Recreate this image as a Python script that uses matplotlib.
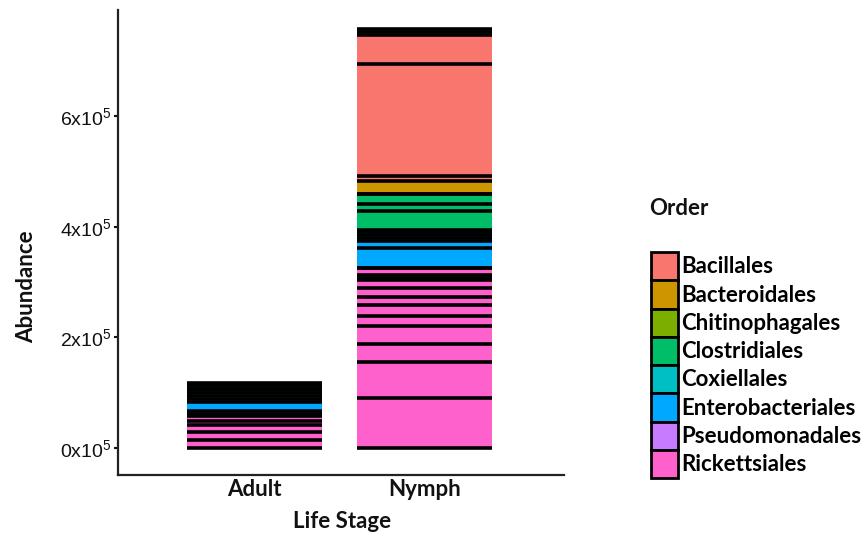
import matplotlib
matplotlib.use('Agg')
import matplotlib.pyplot as plt
import numpy as np
from matplotlib.patches import Patch

plt.rcParams['mathtext.fontset'] = 'custom'
plt.rcParams['mathtext.rm'] = 'Liberation Sans'

stages = ['Adult', 'Nymph']
orders = ['Bacillales', 'Bacteroidales', 'Chitinophagales', 'Clostridiales',
          'Coxiellales', 'Enterobacteriales', 'Pseudomonadales', 'Rickettsiales']
order_colors = ['#F8766D', '#CD9600', '#7CAE00', '#00BE67',
                '#00BFC4', '#00A9FF', '#C77CFF', '#FF61CC']

# segments stacked from the bottom up (one per taxon)
adult_orders = ['Rickettsiales', 'Rickettsiales', 'Rickettsiales', 'Rickettsiales',
                'Rickettsiales', 'Rickettsiales', 'Pseudomonadales', 'Enterobacteriales',
                'Enterobacteriales', 'Coxiellales', 'Coxiellales', 'Clostridiales',
                'Chitinophagales', 'Bacteroidales', 'Bacillales']
adult_values = [15000, 13500, 12500, 7000, 9000, 5000, 5000, 17000,
                5000, 5000, 5000, 5000, 5000, 5000, 4000]

nymph_orders = ['Rickettsiales', 'Rickettsiales', 'Rickettsiales', 'Rickettsiales',
                'Rickettsiales', 'Rickettsiales', 'Rickettsiales', 'Rickettsiales',
                'Rickettsiales', 'Rickettsiales', 'Rickettsiales', 'Rickettsiales',
                'Pseudomonadales', 'Enterobacteriales', 'Enterobacteriales',
                'Enterobacteriales', 'Coxiellales', 'Coxiellales', 'Clostridiales',
                'Clostridiales', 'Clostridiales', 'Clostridiales', 'Chitinophagales',
                'Bacteroidales', 'Bacillales', 'Bacillales', 'Bacillales',
                'Bacillales', 'Bacillales']
nymph_values = [90000, 65000, 33000, 32000, 18000, 20000, 15000, 17000,
                13000, 5000, 5000, 12000, 1000, 35000, 13000, 6000,
                5000, 5000, 5000, 33000, 14000, 17000, 1000, 23500,
                9000, 202000, 53000, 5000, 5000]

y_ticks = [0, 200000, 400000, 600000]
y_tick_labels = [r'$\mathrm{0x10^{5}}$', r'$\mathrm{2x10^{5}}$',
                 r'$\mathrm{4x10^{5}}$', r'$\mathrm{6x10^{5}}$']

colors = dict(zip(orders, order_colors))
title_font = dict(family='Lato', weight='bold', size=16, color='#111111')

fig = plt.figure(figsize=(8.64, 5.34), dpi=100)
ax = fig.add_axes([118/864, 59/534, (564-118)/864, (524-59)/534])

width = 0.79
for i, (segs, vals) in enumerate([(adult_orders, adult_values), (nymph_orders, nymph_values)]):
    pos = i + 1
    bottom = 0
    for o, v in zip(segs, vals):
        ax.bar(pos, v, bottom=bottom, width=width, color=colors[o], edgecolor='none', zorder=2)
        bottom += v
    edges = np.cumsum([0] + vals)
    ax.hlines(edges, pos - width/2, pos + width/2, color='black', lw=2.6, zorder=3)

ax.set_xlim(0.197, 2.82)
ax.set_ylim(-48800, 791800)
ax.spines['top'].set_visible(False)
ax.spines['right'].set_visible(False)
for s in ['left', 'bottom']:
    ax.spines[s].set_linewidth(1.6)
    ax.spines[s].set_color('#222222')

ax.set_yticks(y_ticks, y_tick_labels)
ax.tick_params(axis='y', length=3, width=1.5, pad=2, labelsize=14, colors='#111111')
ax.set_xticks([1, 2], stages)
ax.tick_params(axis='x', length=0, pad=3)
for lab in ax.get_xticklabels():
    lab.set_fontfamily('Lato')
    lab.set_fontweight('bold')
    lab.set_fontsize(16)
    lab.set_color('#111111')

fig.text(27/864, 1 - 287/534, 'Abundance', rotation=90, ha='center', va='center', **title_font)
fig.text(342/864, 1 - 521/534, 'Life Stage', ha='center', va='center', **title_font)

fig.text(649/864, 1 - 208/534, 'Order', ha='left', va='center', **title_font)
handles = [Patch(facecolor=c, edgecolor='black', lw=2) for c in order_colors]
fig.legend(handles, orders, loc='upper left', bbox_to_anchor=(651/864, 1 - 252/534),
           frameon=False, borderpad=0, borderaxespad=0, handlelength=1.22,
           handleheight=1.58, labelspacing=0, handletextpad=0.12,
           prop=dict(family='Lato', weight='bold', size=16))

fig.savefig('out.png', dpi=100)
